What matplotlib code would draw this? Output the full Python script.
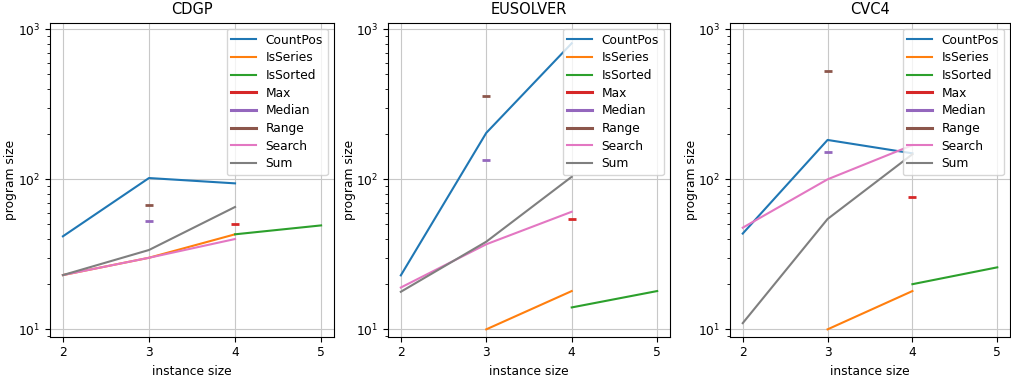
import numpy as np
import matplotlib
matplotlib.use("Agg")
import matplotlib.pyplot as plt
from matplotlib.lines import Line2D

plt.rcParams['font.size'] = 8.8

solvers = ["CDGP", "EUSOLVER", "CVC4"]
series_names = ["CountPos", "IsSeries", "IsSorted", "Max", "Median", "Range", "Search", "Sum"]

# instance sizes and program sizes per solver and benchmark
data = {
    "CDGP": {
        "CountPos": ([2, 3, 4], [41.7, 102, 94]),
        "IsSeries": ([2, 3, 4], [23, 30, 43]),
        "IsSorted": ([4, 5], [43, 49.3]),
        "Max": ([4], [50.4]),
        "Median": ([3], [52.5]),
        "Range": ([3], [67]),
        "Search": ([2, 3, 4], [23, 30, 40]),
        "Sum": ([2, 3, 4], [23, 33.8, 65.4]),
    },
    "EUSOLVER": {
        "CountPos": ([2, 3, 4], [22.9, 204, 807]),
        "IsSeries": ([3, 4], [10, 18]),
        "IsSorted": ([4, 5], [14, 18]),
        "Max": ([4], [54.6]),
        "Median": ([3], [134]),
        "Range": ([3], [359]),
        "Search": ([2, 3, 4], [19, 36.9, 60.8]),
        "Sum": ([2, 3, 4], [17.8, 38.4, 104]),
    },
    "CVC4": {
        "CountPos": ([2, 3, 4], [43.5, 183, 149]),
        "IsSeries": ([3, 4], [10, 18]),
        "IsSorted": ([4, 5], [20, 25.9]),
        "Max": ([4], [76]),
        "Median": ([3], [153]),
        "Range": ([3], [530]),
        "Search": ([2, 3, 4], [47.6, 100, 169]),
        "Sum": ([2, 3, 4], [11, 54.4, 147]),
    },
}

colors = plt.rcParams['axes.prop_cycle'].by_key()['color']

fig = plt.figure(figsize=(10.12, 3.77), dpi=100)
lefts = [50, 388, 730]
width_px = [284, 282, 280]
bottom_px = 377 - 336.7
height_px = 336.7 - 22.7

for i, s in enumerate(solvers):
    ax = fig.add_axes([lefts[i] / 1012, bottom_px / 377, width_px[i] / 1012, height_px / 377])
    handles = []
    for j, name in enumerate(series_names):
        xs, ys = data[s][name]
        if len(xs) == 1:
            ax.plot(xs, ys, color=colors[j], marker='_', markersize=6, markeredgewidth=2)
            handles.append(Line2D([], [], color=colors[j], lw=2.2, label=name))
        else:
            ax.plot(xs, ys, color=colors[j])
            handles.append(Line2D([], [], color=colors[j], lw=1.5, label=name))
    ax.set_yscale('log')
    ax.set_xlim(1.85, 5.15)
    ax.set_ylim(10 ** 0.951, 10 ** 3.044)
    ax.set_xticks([2, 3, 4, 5])
    ax.grid(True, color='#c8c8c8')
    ax.set_title(s)
    ax.set_xlabel("instance size")
    ax.set_ylabel("program size")
    ax.yaxis.set_label_coords(-0.115, 0.5)
    ax.legend(handles=handles, loc='upper right', labelspacing=0.38)

fig.savefig("out.png", dpi=100)
